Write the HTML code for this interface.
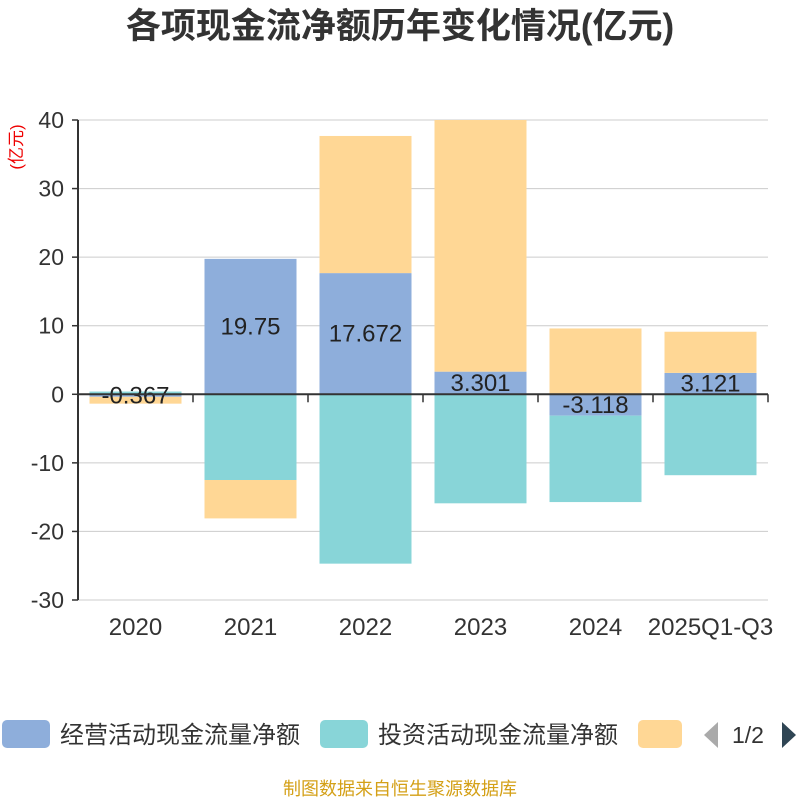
<!DOCTYPE html>
<html><head><meta charset="utf-8">
<style>
body{margin:0;background:#fff;}
svg{display:block;font-family:"Liberation Sans","Noto Sans CJK SC",sans-serif;}
</style></head>
<body>
<svg id="chart" width="800" height="800">
<text x="400" y="38" text-anchor="middle" font-size="35" font-weight="bold" fill="#333">各项现金流净额历年变化情况(亿元)</text>
<text transform="translate(22,147) rotate(-90)" text-anchor="middle" font-size="17" fill="#e00">(亿元)</text>
<g id="grid"></g><g id="bars"></g><g id="axes"></g>
<g>
<rect x="2" y="720" width="48" height="28" rx="5" fill="#8eaedb"/>
<text x="60" y="743" font-size="24" fill="#333">经营活动现金流量净额</text>
<rect x="320" y="720" width="48" height="28" rx="5" fill="#88d5d8"/>
<text x="378" y="743" font-size="24" fill="#333">投资活动现金流量净额</text>
<rect x="638" y="720" width="44" height="28" rx="5" fill="#ffd795"/>
<polygon points="718,722 718,748 704,735" fill="#aaa"/>
<text x="732" y="743" font-size="23" fill="#333">1/2</text>
<polygon points="782,722 782,748 796,735" fill="#2f4554"/>
</g>
<text x="400" y="795" text-anchor="middle" font-size="18" fill="#d4a017">制图数据来自恒生聚源数据库</text>
</svg>
<script>
const categories=["2020","2021","2022","2023","2024","2025Q1-Q3"];
const operating=[-0.367,19.75,17.672,3.301,-3.118,3.121];
const investing=[0.4,-12.5,-24.7,-15.9,-12.6,-11.8];
const financing=[-1.0,-5.6,20.0,36.7,9.6,6.0];
const yTicks=[40,30,20,10,0,-10,-20,-30];
const NS="http://www.w3.org/2000/svg";
const x0=78,x1=768,yTop=120,yBot=600,yMax=40,yMin=-30;
const Y=v=>yTop+(yMax-v)/(yMax-yMin)*(yBot-yTop);
const band=(x1-x0)/categories.length;
const X=i=>x0+band*i+band/2;
function mk(tag,attrs,parent){const e=document.createElementNS(NS,tag);for(const k in attrs)e.setAttribute(k,attrs[k]);parent.appendChild(e);return e;}
const grid=document.getElementById('grid'),bars=document.getElementById('bars'),axes=document.getElementById('axes');
yTicks.forEach(t=>{
  const l=mk('line',{x1:x0,x2:x1,y1:Y(t),y2:Y(t),stroke:'#ccc','stroke-width':1},grid);
  
  
  const tx=mk('text',{x:x0-14,y:Y(t)+8,'text-anchor':'end','font-size':23,fill:'#333'},axes);
  tx.textContent=t;
  
  
  mk('line',{x1:x0-6,x2:x0,y1:Y(t),y2:Y(t),stroke:'#333','stroke-width':1.5},axes);
});
const series=[[operating,'#8eaedb','operating'],[investing,'#88d5d8','investing'],[financing,'#ffd795','financing']];
const bw=92;
categories.forEach((c,i)=>{
  let pos=0,neg=0;
  series.forEach(([arr,col,nm])=>{
    const v=arr[i];let a,b;
    if(v>=0){a=pos;b=pos+v;pos=b;}else{a=neg;b=neg+v;neg=b;}
    const top=Y(Math.max(a,b)),bot=Y(Math.min(a,b));
    const yt=Math.max(top,yTop);
    const r=mk('rect',{x:X(i)-bw/2,y:yt,width:bw,height:Math.max(0,bot-yt),fill:col},bars);
    
    
  });
  const v=operating[i];
  const lab=mk('text',{x:X(i),y:Y(v/2)+8,'text-anchor':'middle','font-size':24,fill:'#222'},bars);
  lab.textContent=v;
  
  
  const cl=mk('text',{x:X(i),y:635,'text-anchor':'middle','font-size':24,fill:'#333'},axes);
  cl.textContent=c;
  
  
});
mk('line',{x1:x0,x2:x0,y1:yTop,y2:yBot,stroke:'#333','stroke-width':2},axes);
mk('line',{x1:x0,x2:x1,y1:Y(0),y2:Y(0),stroke:'#333','stroke-width':2},axes);
for(let i=0;i<=categories.length;i++){mk('line',{x1:x0+band*i,x2:x0+band*i,y1:Y(0),y2:Y(0)+8,stroke:'#333','stroke-width':1.5},axes);}
</script>
</body></html>
